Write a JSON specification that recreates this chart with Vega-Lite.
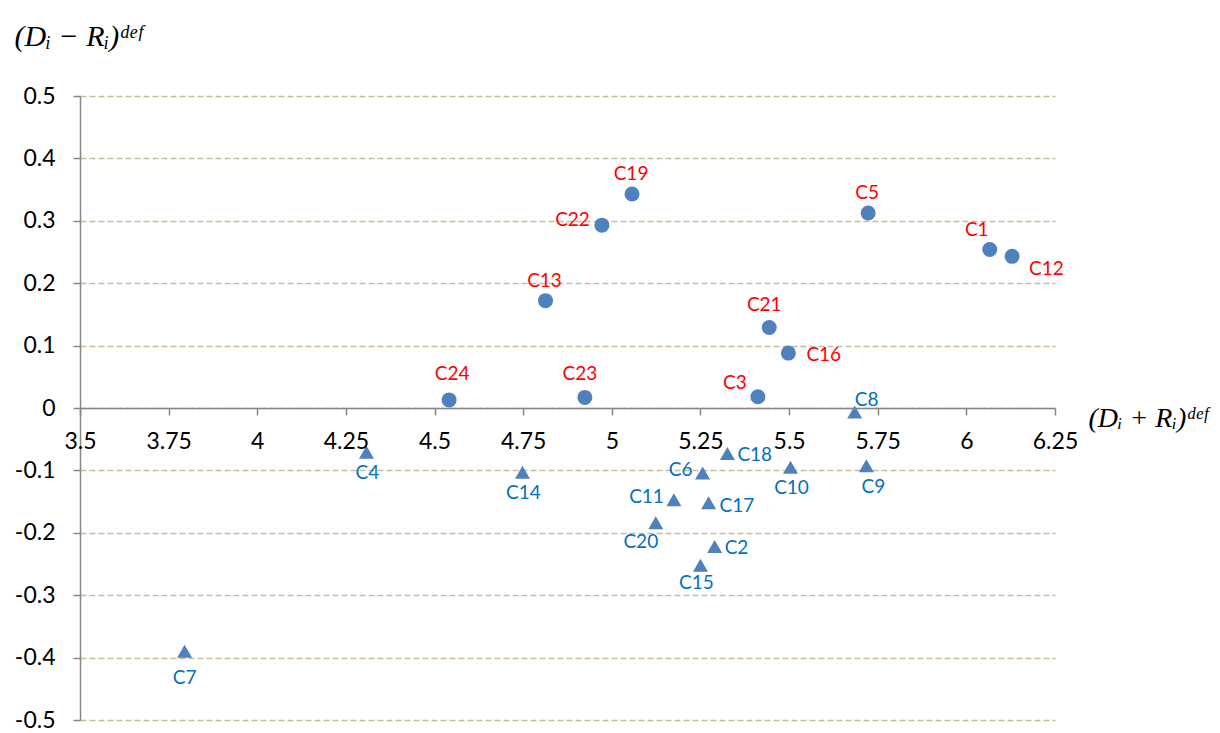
{
  "$schema": "https://vega.github.io/schema/vega-lite/v6.json",
  "width": 975,
  "height": 624,
  "autosize": {"type": "none"},
  "padding": {"left": 80, "top": 96, "right": 165, "bottom": 13},
  "background": "#ffffff",
  "config": {
    "view": {"stroke": null},
    "font": "Lato",
    "text": {"font": "Lato", "fontSize": 19, "baseline": "middle"}
  },
  "data": {
    "values": [
      {"name": "C19", "x": 5.057, "y": 0.343, "group": "circle"},
      {"name": "C22", "x": 4.972, "y": 0.293, "group": "circle"},
      {"name": "C13", "x": 4.813, "y": 0.172, "group": "circle"},
      {"name": "C5", "x": 5.723, "y": 0.3125, "group": "circle"},
      {"name": "C1", "x": 6.066, "y": 0.254, "group": "circle"},
      {"name": "C12", "x": 6.129, "y": 0.243, "group": "circle"},
      {"name": "C21", "x": 5.444, "y": 0.129, "group": "circle"},
      {"name": "C16", "x": 5.498, "y": 0.088, "group": "circle"},
      {"name": "C24", "x": 4.541, "y": 0.013, "group": "circle"},
      {"name": "C23", "x": 4.924, "y": 0.017, "group": "circle"},
      {"name": "C3", "x": 5.412, "y": 0.018, "group": "circle"},
      {"name": "C8", "x": 5.685, "y": -0.0065, "group": "triangle"},
      {"name": "C4", "x": 4.308, "y": -0.071, "group": "triangle"},
      {"name": "C18", "x": 5.326, "y": -0.073, "group": "triangle"},
      {"name": "C14", "x": 4.748, "y": -0.103, "group": "triangle"},
      {"name": "C6", "x": 5.256, "y": -0.104, "group": "triangle"},
      {"name": "C10", "x": 5.504, "y": -0.095, "group": "triangle"},
      {"name": "C9", "x": 5.718, "y": -0.0925, "group": "triangle"},
      {"name": "C11", "x": 5.175, "y": -0.147, "group": "triangle"},
      {"name": "C17", "x": 5.273, "y": -0.152, "group": "triangle"},
      {"name": "C20", "x": 5.124, "y": -0.184, "group": "triangle"},
      {"name": "C2", "x": 5.290, "y": -0.222, "group": "triangle"},
      {"name": "C15", "x": 5.250, "y": -0.252, "group": "triangle"},
      {"name": "C7", "x": 3.795, "y": -0.390, "group": "triangle"}
    ]
  },
  "encoding": {
    "x": {
      "field": "x", "type": "quantitative",
      "scale": {"domain": [3.5, 6.25], "nice": false, "zero": false},
      "axis": {
        "orient": "bottom", "offset": -312, "zindex": 1,
        "values": [3.5, 3.75, 4, 4.25, 4.5, 4.75, 5, 5.25, 5.5, 5.75, 6, 6.25],
        "labelExpr": "format(datum.value, '.2~f')", "grid": false,
        "domainColor": "#868686", "domainWidth": 1.5,
        "tickColor": "#868686", "tickSize": 7, "tickWidth": 1.5,
        "labelFont": "Lato", "labelFontSize": 23, "labelColor": "#000000", "labelPadding": 15,
        "labelFlush": false, "labelOverlap": false,
        "title": "(Dᵢ + Rᵢ)ᵈᵉᶠ", "titleFont": "Liberation Serif", "titleFontStyle": "italic",
        "titleFontWeight": "normal", "titleFontSize": 28, "titleColor": "#000000",
        "titleAngle": 0, "titleAlign": "left", "titleBaseline": "alphabetic",
        "titleX": 1008, "titleY": 18
      }
    },
    "y": {
      "field": "y", "type": "quantitative",
      "scale": {"domain": [-0.5, 0.5], "nice": false, "zero": false},
      "axis": {
        "orient": "left",
        "values": [-0.5, -0.4, -0.3, -0.2, -0.1, 0, 0.1, 0.2, 0.3, 0.4, 0.5],
        "labelExpr": "datum.value == 0 ? '0' : replace(format(datum.value, '.1f'), '−', '-')",
        "grid": true, "gridColor": "#C4BD97", "gridDash": [6, 3], "gridWidth": 1.5,
        "domainColor": "#868686", "domainWidth": 1.5,
        "tickColor": "#868686", "tickSize": 7, "tickWidth": 1.5,
        "labelFont": "Lato", "labelFontSize": 23, "labelColor": "#000000", "labelPadding": 18,
        "labelOverlap": false, "labelFlush": false,
        "title": "(Dᵢ − Rᵢ)ᵈᵉᶠ", "titleFont": "Liberation Serif", "titleFontStyle": "italic",
        "titleFontWeight": "normal", "titleFontSize": 30, "titleColor": "#000000",
        "titleAngle": 0, "titleAlign": "left", "titleBaseline": "alphabetic",
        "titleX": -66, "titleY": -51
      }
    }
  },
  "layer": [
    {
      "mark": {"type": "point", "filled": true, "opacity": 1, "size": 225, "color": "#4F81BD"},
      "encoding": {
        "shape": {"field": "group", "type": "nominal",
          "scale": {"domain": ["circle", "triangle"], "range": ["circle", "triangle-up"]},
          "legend": null}
      }
    },
    {
      "transform": [{"filter": {"field": "name", "oneOf": ["C19", "C13", "C5"]}}],
      "mark": {"type": "text", "dx": -1, "dy": -20, "color": "#FF0000"},
      "encoding": {"text": {"field": "name"}}
    },
    {
      "transform": [{"filter": {"field": "name", "oneOf": ["C21", "C23"]}}],
      "mark": {"type": "text", "dx": -5, "dy": -23, "color": "#FF0000"},
      "encoding": {"text": {"field": "name"}}
    },
    {
      "transform": [{"filter": {"field": "name", "oneOf": ["C24"]}}],
      "mark": {"type": "text", "dx": 3, "dy": -26, "color": "#FF0000"},
      "encoding": {"text": {"field": "name"}}
    },
    {
      "transform": [{"filter": {"field": "name", "oneOf": ["C1"]}}],
      "mark": {"type": "text", "dx": -13, "dy": -20, "color": "#FF0000"},
      "encoding": {"text": {"field": "name"}}
    },
    {
      "transform": [{"filter": {"field": "name", "oneOf": ["C3"]}}],
      "mark": {"type": "text", "dx": -23, "dy": -14, "color": "#FF0000"},
      "encoding": {"text": {"field": "name"}}
    },
    {
      "transform": [{"filter": {"field": "name", "oneOf": ["C22"]}}],
      "mark": {"type": "text", "align": "right", "dx": -12, "dy": -5, "color": "#FF0000"},
      "encoding": {"text": {"field": "name"}}
    },
    {
      "transform": [{"filter": {"field": "name", "oneOf": ["C12"]}}],
      "mark": {"type": "text", "align": "left", "dx": 17, "dy": 13, "color": "#FF0000"},
      "encoding": {"text": {"field": "name"}}
    },
    {
      "transform": [{"filter": {"field": "name", "oneOf": ["C16"]}}],
      "mark": {"type": "text", "align": "left", "dx": 18, "dy": 2, "color": "#FF0000"},
      "encoding": {"text": {"field": "name"}}
    },
    {
      "transform": [{"filter": {"field": "name", "oneOf": ["C4", "C14", "C10"]}}],
      "mark": {"type": "text", "dx": 1, "dy": 21, "color": "#0070C0"},
      "encoding": {"text": {"field": "name"}}
    },
    {
      "transform": [{"filter": {"field": "name", "oneOf": ["C9"]}}],
      "mark": {"type": "text", "dx": 7, "dy": 21, "color": "#0070C0"},
      "encoding": {"text": {"field": "name"}}
    },
    {
      "transform": [{"filter": {"field": "name", "oneOf": ["C15"]}}],
      "mark": {"type": "text", "dx": -4, "dy": 18, "color": "#0070C0"},
      "encoding": {"text": {"field": "name"}}
    },
    {
      "transform": [{"filter": {"field": "name", "oneOf": ["C7"]}}],
      "mark": {"type": "text", "dx": 0, "dy": 27, "color": "#0070C0"},
      "encoding": {"text": {"field": "name"}}
    },
    {
      "transform": [{"filter": {"field": "name", "oneOf": ["C20"]}}],
      "mark": {"type": "text", "dx": -15, "dy": 19, "color": "#0070C0"},
      "encoding": {"text": {"field": "name"}}
    },
    {
      "transform": [{"filter": {"field": "name", "oneOf": ["C18", "C2"]}}],
      "mark": {"type": "text", "align": "left", "dx": 10, "dy": 1, "color": "#0070C0"},
      "encoding": {"text": {"field": "name"}}
    },
    {
      "transform": [{"filter": {"field": "name", "oneOf": ["C17"]}}],
      "mark": {"type": "text", "align": "left", "dx": 11, "dy": 3, "color": "#0070C0"},
      "encoding": {"text": {"field": "name"}}
    },
    {
      "transform": [{"filter": {"field": "name", "oneOf": ["C6", "C11"]}}],
      "mark": {"type": "text", "align": "right", "dx": -10, "dy": -3, "color": "#0070C0"},
      "encoding": {"text": {"field": "name"}}
    },
    {
      "transform": [{"filter": {"field": "name", "oneOf": ["C8"]}}],
      "mark": {"type": "text", "dx": 12, "dy": -12, "color": "#0070C0"},
      "encoding": {"text": {"field": "name"}}
    }
  ]
}
